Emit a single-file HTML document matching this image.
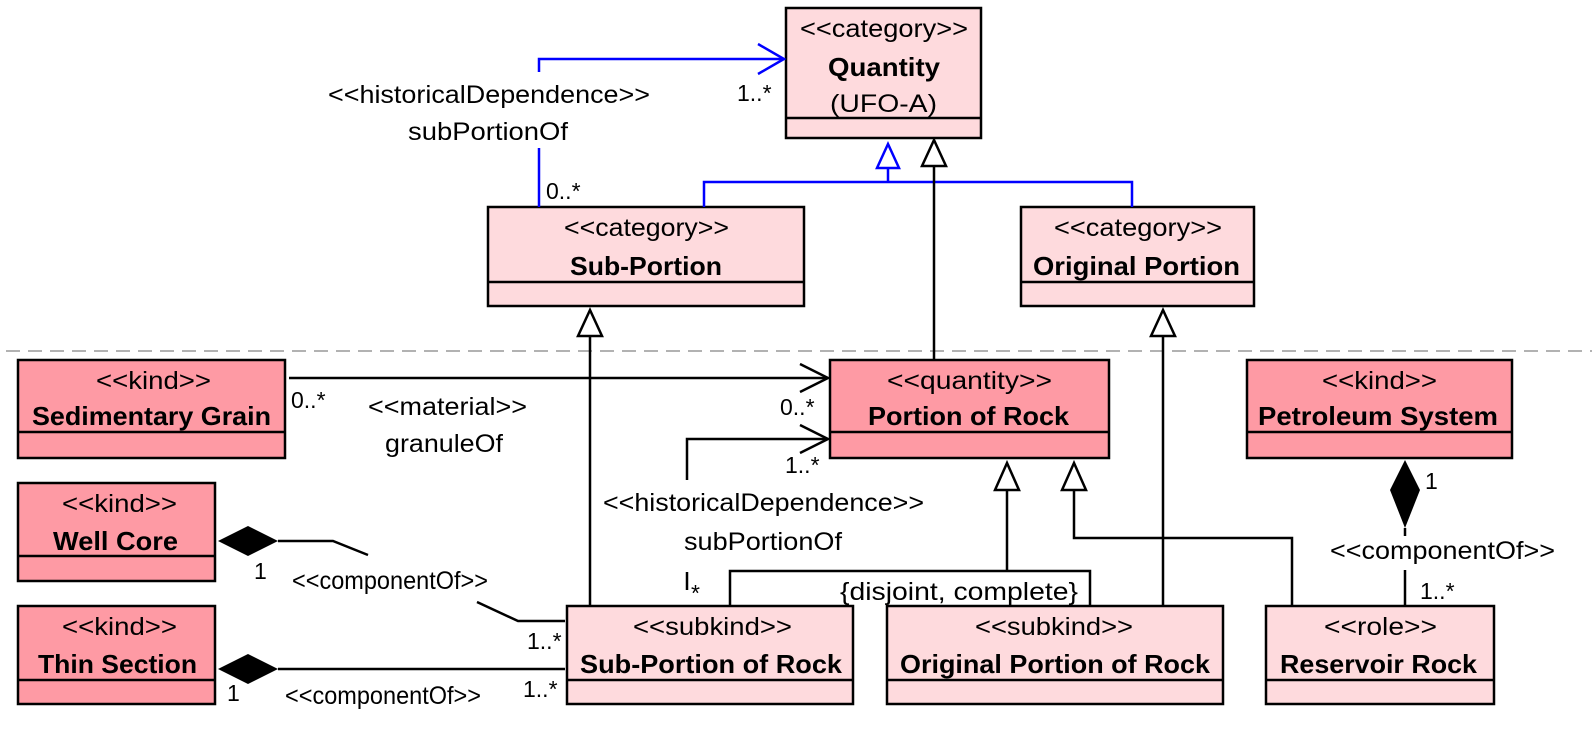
<!DOCTYPE html>
<html><head><meta charset="utf-8"><style>
html,body{margin:0;padding:0;background:#fff;}
svg{display:block;font-family:"Liberation Sans",Arial,sans-serif;}
text{font-size:25px;fill:#000;}
.b{font-weight:bold;font-size:26px;}
.m{font-size:23px;}
</style></head><body>
<svg width="1592" height="732" viewBox="0 0 1592 732" xmlns="http://www.w3.org/2000/svg">
<g stroke="#000" stroke-width="2.5">
<rect x="786" y="8" width="195" height="130" fill="#fedadd"/><line x1="786" y1="118" x2="981" y2="118"/>
<rect x="488" y="207" width="316" height="99" fill="#fedadd"/><line x1="488" y1="282" x2="804" y2="282"/>
<rect x="1021" y="207" width="233" height="99" fill="#fedadd"/><line x1="1021" y1="282" x2="1254" y2="282"/>
<rect x="567" y="606" width="286" height="98" fill="#fedadd"/><line x1="567" y1="680" x2="853" y2="680"/>
<rect x="887" y="606" width="336" height="98" fill="#fedadd"/><line x1="887" y1="680" x2="1223" y2="680"/>
<rect x="1266" y="606" width="228" height="98" fill="#fedadd"/><line x1="1266" y1="680" x2="1494" y2="680"/>
<rect x="18" y="360" width="267" height="98" fill="#fe9aa4"/><line x1="18" y1="432" x2="285" y2="432"/>
<rect x="830" y="360" width="279" height="98" fill="#fe9aa4"/><line x1="830" y1="432" x2="1109" y2="432"/>
<rect x="1247" y="360" width="265" height="98" fill="#fe9aa4"/><line x1="1247" y1="432" x2="1512" y2="432"/>
<rect x="18" y="483" width="197" height="98" fill="#fe9aa4"/><line x1="18" y1="556" x2="215" y2="556"/>
<rect x="18" y="606" width="197" height="98" fill="#fe9aa4"/><line x1="18" y1="680" x2="215" y2="680"/>
</g>
<line x1="6" y1="351" x2="1592" y2="351" stroke="#999" stroke-width="1.5" stroke-dasharray="14,8"/>
<g stroke="#0000ff" stroke-width="2.5" fill="none">
<polyline points="539,72 539,59 784,59"/>
<polyline points="758,44 784,59 758,74"/>
<line x1="539" y1="148" x2="539" y2="207"/>
<polyline points="704,207 704,182 1132,182 1132,207"/>
<line x1="888" y1="182" x2="888" y2="168"/>
<polygon points="888,144 877,168 899,168" fill="#fff"/>
</g>
<g stroke="#000" stroke-width="2.5" fill="none">
<line x1="934" y1="360" x2="934" y2="166"/>
<polygon points="934,140 922,166 946,166" fill="#fff"/>
<line x1="590" y1="606" x2="590" y2="336"/>
<polygon points="590,310 578,336 602,336" fill="#fff"/>
<line x1="1163" y1="606" x2="1163" y2="336"/>
<polygon points="1163,310 1151,336 1175,336" fill="#fff"/>
<polyline points="730,606 730,571 1090,571 1090,606"/>
<line x1="1007" y1="571" x2="1007" y2="490"/>
<polygon points="1007,463 995,490 1019,490" fill="#fff"/>
<polyline points="1292,606 1292,538 1074,538 1074,490"/>
<polygon points="1074,463 1062,490 1086,490" fill="#fff"/>
<line x1="289" y1="378" x2="828" y2="378"/>
<polyline points="800,364 828,378 800,392"/>
<polyline points="687,480 687,439 828,439"/>
<polyline points="800,425 828,439 800,453"/>
<line x1="687" y1="572" x2="687" y2="590"/>
<polyline points="278,541 333,541 368,555"/>
<polyline points="477,602 518,621 565,621"/>
<line x1="278" y1="669" x2="565" y2="669"/>
<line x1="1405" y1="528" x2="1405" y2="536"/>
<line x1="1405" y1="570" x2="1405" y2="606"/>
</g>
<polygon points="218,541 248,526 278,541 248,556" fill="#000"/>
<polygon points="218,669 248,654 278,669 248,684" fill="#000"/>
<polygon points="1405,460 1390,490 1405,528 1420,490" fill="#000"/>
<g>
<text x="800" y="37" textLength="168" lengthAdjust="spacingAndGlyphs">&lt;&lt;category&gt;&gt;</text>
<text x="828" y="76" class="b" textLength="112" lengthAdjust="spacingAndGlyphs">Quantity</text>
<text x="830" y="112" textLength="107" lengthAdjust="spacingAndGlyphs">(UFO-A)</text>
<text x="564" y="236" textLength="165" lengthAdjust="spacingAndGlyphs">&lt;&lt;category&gt;&gt;</text>
<text x="570" y="275" class="b" textLength="152" lengthAdjust="spacingAndGlyphs">Sub-Portion</text>
<text x="1054" y="236" textLength="168" lengthAdjust="spacingAndGlyphs">&lt;&lt;category&gt;&gt;</text>
<text x="1033" y="275" class="b" textLength="207" lengthAdjust="spacingAndGlyphs">Original Portion</text>
<text x="96" y="389" textLength="115" lengthAdjust="spacingAndGlyphs">&lt;&lt;kind&gt;&gt;</text>
<text x="32" y="425" class="b" textLength="239" lengthAdjust="spacingAndGlyphs">Sedimentary Grain</text>
<text x="887" y="389" textLength="165" lengthAdjust="spacingAndGlyphs">&lt;&lt;quantity&gt;&gt;</text>
<text x="868" y="425" class="b" textLength="201" lengthAdjust="spacingAndGlyphs">Portion of Rock</text>
<text x="1322" y="389" textLength="115" lengthAdjust="spacingAndGlyphs">&lt;&lt;kind&gt;&gt;</text>
<text x="1258" y="425" class="b" textLength="240" lengthAdjust="spacingAndGlyphs">Petroleum System</text>
<text x="62" y="512" textLength="115" lengthAdjust="spacingAndGlyphs">&lt;&lt;kind&gt;&gt;</text>
<text x="53" y="550" class="b" textLength="125" lengthAdjust="spacingAndGlyphs">Well Core</text>
<text x="62" y="635" textLength="115" lengthAdjust="spacingAndGlyphs">&lt;&lt;kind&gt;&gt;</text>
<text x="38" y="673" class="b" textLength="159" lengthAdjust="spacingAndGlyphs">Thin Section</text>
<text x="633" y="635" textLength="159" lengthAdjust="spacingAndGlyphs">&lt;&lt;subkind&gt;&gt;</text>
<text x="580" y="673" class="b" textLength="262" lengthAdjust="spacingAndGlyphs">Sub-Portion of Rock</text>
<text x="975" y="635" textLength="158" lengthAdjust="spacingAndGlyphs">&lt;&lt;subkind&gt;&gt;</text>
<text x="900" y="673" class="b" textLength="310" lengthAdjust="spacingAndGlyphs">Original Portion of Rock</text>
<text x="1324" y="635" textLength="113" lengthAdjust="spacingAndGlyphs">&lt;&lt;role&gt;&gt;</text>
<text x="1280" y="673" class="b" textLength="197" lengthAdjust="spacingAndGlyphs">Reservoir Rock</text>
<text x="328" y="103" textLength="322" lengthAdjust="spacingAndGlyphs">&lt;&lt;historicalDependence&gt;&gt;</text>
<text x="408" y="140" textLength="160" lengthAdjust="spacingAndGlyphs">subPortionOf</text>
<text x="368" y="415" textLength="159" lengthAdjust="spacingAndGlyphs">&lt;&lt;material&gt;&gt;</text>
<text x="385" y="452" textLength="118" lengthAdjust="spacingAndGlyphs">granuleOf</text>
<text x="603" y="511" textLength="321" lengthAdjust="spacingAndGlyphs">&lt;&lt;historicalDependence&gt;&gt;</text>
<text x="684" y="550" textLength="158" lengthAdjust="spacingAndGlyphs">subPortionOf</text>
<text x="292" y="589" textLength="196" lengthAdjust="spacingAndGlyphs">&lt;&lt;componentOf&gt;&gt;</text>
<text x="285" y="704" textLength="196" lengthAdjust="spacingAndGlyphs">&lt;&lt;componentOf&gt;&gt;</text>
<text x="1330" y="559" textLength="225" lengthAdjust="spacingAndGlyphs">&lt;&lt;componentOf&gt;&gt;</text>
<text x="840" y="600" textLength="238" lengthAdjust="spacingAndGlyphs">{disjoint, complete}</text>
</g>
<text class="m" x="737" y="101">1..*</text>
<text class="m" x="546" y="199">0..*</text>
<text class="m" x="291" y="408">0..*</text>
<text class="m" x="780" y="415">0..*</text>
<text class="m" x="785" y="473">1..*</text>
<text class="m" x="691" y="601">*</text>
<text class="m" x="254" y="579">1</text>
<text class="m" x="527" y="649">1..*</text>
<text class="m" x="523" y="697">1..*</text>
<text class="m" x="227" y="701">1</text>
<text class="m" x="1425" y="489">1</text>
<text class="m" x="1420" y="599">1..*</text>
</svg>
</body></html>
